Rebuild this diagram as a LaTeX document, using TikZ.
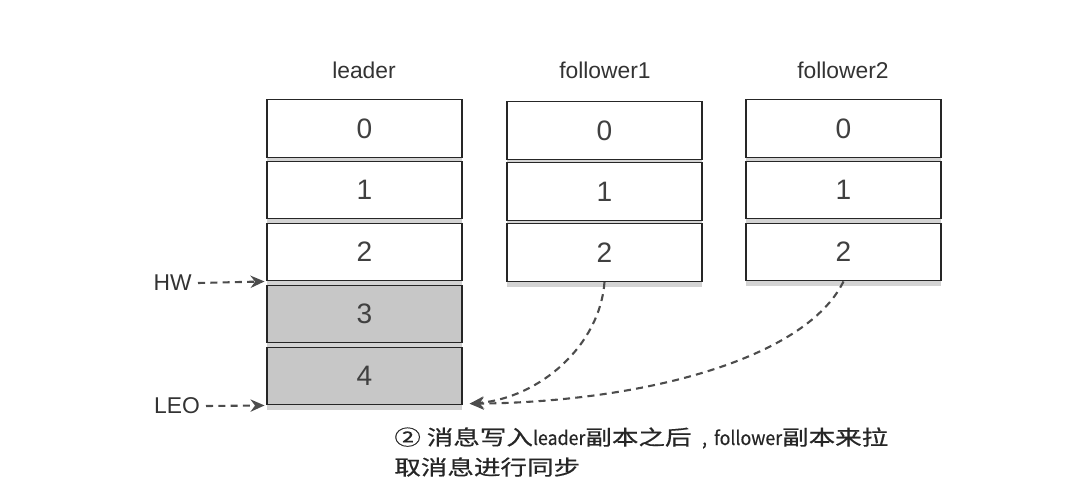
\documentclass[tikz,border=0pt]{standalone}
\usepackage{fontspec}
\setmainfont{Liberation Sans}
\newfontfamily\capcjk[FakeStretch=1.28,FakeBold=0.6]{Noto Sans CJK SC}
\newfontfamily\caplat[FakeStretch=0.92,FakeBold=0.4]{Noto Sans CJK SC}
\newcommand{\cz}[1]{{\capcjk\fontsize{11.8}{17}\selectfont #1}}
\newcommand{\cl}[1]{{\caplat\fontsize{11}{17}\selectfont #1}}
\usetikzlibrary{shadows,arrows.meta}
\begin{document}
\begin{tikzpicture}[x=0.02cm,y=-0.02cm,
  cell/.style={draw=black!85, line width=0.8pt, fill=white, minimum width=3.9cm, minimum height=1.15cm,
    inner sep=0pt, font=\fontsize{16}{18}\selectfont, text=black!75,
    drop shadow={shadow xshift=0pt, shadow yshift=-3pt, opacity=0.35}},
  hot/.style={cell, fill=black!22},
  lbl/.style={font=\fontsize{13}{15}\selectfont, text=black!80},
  dasharrow/.style={draw=black!70, line width=1.2pt, dash pattern=on 4pt off 3pt,
    -{Stealth[length=8pt,width=7pt]}}
]
\useasboundingbox (0,0) rectangle (1066,504);
% leader
\node[lbl] (tl) at (364,70) {leader};
\node[cell] (l0) at (364.5,128.5) {0};
\node[cell] (l1) at (364.5,190) {1};
\node[cell] (l2) at (364.5,252) {2};
\node[hot]  (l3) at (364.5,314) {3};
\node[hot]  (l4) at (364.5,376) {4};
% follower1
\node[lbl] (tf1) at (605,70) {follower1};
\node[cell] (a0) at (604.5,130.5) {0};
\node[cell] (a1) at (604.5,191.5) {1};
\node[cell] (a2) at (604.5,252.5) {2};
% follower2
\node[lbl] (tf2) at (843,70) {follower2};
\node[cell] (b0) at (843.5,128.5) {0};
\node[cell] (b1) at (843.5,190) {1};
\node[cell] (b2) at (843.5,252) {2};
% HW / LEO
\node[lbl, anchor=east] (hw) at (198,283) {HW};
\node[lbl, anchor=east] (leo) at (206,406) {LEO};
\draw[dasharrow] (hw.east) -- ([xshift=-1pt]l2.south west);
\draw[dasharrow] (leo.east) -- ([xshift=-1pt]l4.south west);
% pulls
\coordinate (tip) at ([xshift=4pt,yshift=1pt]l4.south east);
\draw[dasharrow] (a2.south) .. controls (600,345) and (540,398) .. (tip);
\draw[dasharrow] (b2.south) .. controls (805,360) and (640,402) .. (tip);
% caption
\node[anchor=west, inner sep=0pt, text=black!85] (cap1) at (394,438)
  {\cz{② 消息写入}\cl{leader}\cz{副本之后}\kern6pt\cl{,}\kern4pt\cl{follower}\cz{副本来拉}};
\node[anchor=west, inner sep=0pt, text=black!85] (cap2) at (394,467)
  {\cz{取消息进行同步}};
\end{tikzpicture}
\end{document}
